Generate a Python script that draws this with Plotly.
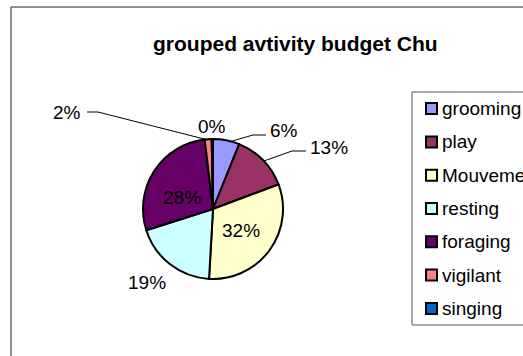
import plotly.graph_objects as go

activities = ['grooming', 'play', 'Mouvement', 'resting', 'foraging', 'vigilant', 'singing']
shares = [6.1, 13.2, 31.6, 19.2, 28.0, 1.6, 0.3]
colors = ['#9999FF', '#993366', '#FFFFCC', '#CCFFFF', '#660066', '#FF8080', '#0066CC']
title = 'grouped avtivity budget Chu'

W, H = 523, 356
FONT = 'Liberation Sans, Arial, sans-serif'


def px(x):
    return x / W


def py(y):
    return 1 - y / H


total = sum(shares)
pct = ['%d%%' % round(v / total * 100) for v in shares]

fig = go.Figure()

# pie: centre (213, 209), radius 70 px
fig.add_trace(go.Pie(
    labels=activities,
    values=shares,
    sort=False,
    direction='clockwise',
    rotation=0,
    textinfo='none',
    hoverinfo='label+percent',
    marker=dict(colors=colors, line=dict(color='black', width=2)),
    domain=dict(x=[px(143), px(283)], y=[py(279), py(139)]),
    showlegend=False,
))

# where Excel put each percentage label (pixels), and leader lines
label_pos = [(284, 130), (329, 147), (241, 230), (147, 282), (182, 197), (67, 112), (212, 127)]
leaders = {
    0: [(266, 135), (253, 135), (229, 142)],
    1: [(306, 151), (292, 151), (264, 161)],
    5: [(87, 112), (98, 112), (208, 140)],
}

annotations = []
shapes = []

for i, (lx, ly) in enumerate(label_pos):
    annotations.append(dict(
        x=px(lx), y=py(ly), xref='paper', yref='paper',
        text=pct[i], showarrow=False,
        font=dict(family=FONT, size=19, color='black'),
        xanchor='center', yanchor='middle',
    ))

for i, pts in leaders.items():
    path = 'M ' + ' L '.join('%f %f' % (px(x), py(y)) for x, y in pts)
    shapes.append(dict(type='path', path=path, xref='paper', yref='paper',
                       line=dict(color='black', width=1)))

# chart border
shapes.append(dict(type='rect', xref='paper', yref='paper',
                   x0=px(11), x1=px(560), y0=py(380), y1=py(7),
                   line=dict(color='#222222', width=1), layer='below'))

# legend box + entries
shapes.append(dict(type='rect', xref='paper', yref='paper',
                   x0=px(412), x1=px(560), y0=py(325), y1=py(92),
                   line=dict(color='#555555', width=1), layer='below'))
step = 33.3
for i, name in enumerate(activities):
    yc = 108.6 + step * i
    shapes.append(dict(type='rect', xref='paper', yref='paper',
                       x0=px(426), x1=px(437), y0=py(yc + 5.5), y1=py(yc - 5.5),
                       fillcolor=colors[i], line=dict(color='black', width=2)))
    annotations.append(dict(
        x=px(440), y=py(yc), xref='paper', yref='paper',
        text=name, showarrow=False,
        font=dict(family=FONT, size=19, color='black'),
        xanchor='left', yanchor='middle',
    ))

# title
annotations.append(dict(
    x=px(295), y=py(44), xref='paper', yref='paper',
    text='<b>' + title + '</b>', showarrow=False,
    font=dict(family=FONT, size=21, color='black'),
    xanchor='center', yanchor='middle',
))

fig.update_layout(
    width=W, height=H,
    margin=dict(l=0, r=0, t=0, b=0),
    paper_bgcolor='white',
    plot_bgcolor='white',
    showlegend=False,
    annotations=annotations,
    shapes=shapes,
)

# drop the browser's default 8px page margin so the figure sits at 0,0
fig.write_html('out.html', config={'displayModeBar': False},
               post_script="document.body.style.margin='0';")
